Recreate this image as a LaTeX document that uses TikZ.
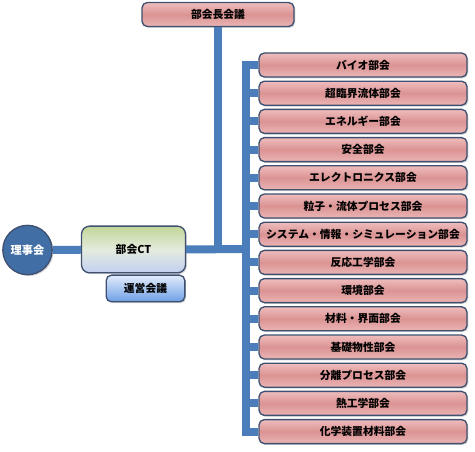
\documentclass[tikz,border=0pt]{standalone}
\usepackage{fontspec}
\newfontfamily\jp{Noto Sans CJK JP}
\usetikzlibrary{shadows}
\definecolor{linkblue}{HTML}{4A7DBA}
\definecolor{boxedge}{HTML}{3F5070}
\definecolor{pinktop}{HTML}{EFBDBD}
\definecolor{pinkmid}{HTML}{DB9393}
\definecolor{pinkbot}{HTML}{EBB5B5}
\definecolor{cttop}{HTML}{C2D699}
\definecolor{ctmid}{HTML}{E4EBDD}
\definecolor{ctbot}{HTML}{C3CFF2}
\definecolor{uneitop}{HTML}{E2ECFB}
\definecolor{uneibot}{HTML}{6E9FE6}
\tikzset{
  divbox/.style={draw=boxedge, line width=1pt, rounded corners=4pt,
    top color=pinktop, bottom color=pinkbot, middle color=pinkmid,
    minimum width=156pt, minimum height=18pt, inner sep=0pt,
    font=\jp\bfseries\fontsize{8.1}{9}\selectfont,
    drop shadow={shadow xshift=1pt, shadow yshift=-1pt, opacity=0.35}},
  link/.style={draw=linkblue, line width=6pt},
}
\begin{document}
\begin{tikzpicture}[x=0.75pt, y=-0.75pt]
  \useasboundingbox (0,0) rectangle (475,452);

  % Board and chair meeting
  \node[circle, draw=boxedge, line width=1pt, fill=linkblue!88!black,
    minimum size=37pt, inner sep=0pt, text=white,
    font=\jp\bfseries\fontsize{8.4}{9}\selectfont,
    drop shadow={shadow xshift=1pt, shadow yshift=-1pt, opacity=0.35}]
    (riji) at (27.5,250) {理事会};
  \node[divbox, minimum width=114pt, minimum height=18pt] (chair) at (218,14.5) {部会長会議};

  % Central team
  \node[draw=boxedge, line width=1pt, rounded corners=6pt,
    top color=cttop, bottom color=ctbot, middle color=ctmid,
    minimum width=78pt, minimum height=35pt, inner sep=0pt,
    font=\jp\bfseries\fontsize{8.1}{9}\selectfont,
    drop shadow={shadow xshift=1pt, shadow yshift=-1pt, opacity=0.35}]
    (ct) at (133.5,249.5) {部会CT};
  \node[draw=boxedge, line width=1pt, rounded corners=4pt,
    top color=uneitop, bottom color=uneibot,
    minimum width=59pt, minimum height=20pt, inner sep=0pt,
    font=\jp\bfseries\fontsize{8.1}{9}\selectfont,
    drop shadow={shadow xshift=1pt, shadow yshift=-1pt, opacity=0.35}]
    (unei) at (145.5,288.5) {運営会議};

  % Divisions
  \node[divbox] (bio) at (363,65) {バイオ部会};
  \node[divbox] (fluid) at (363,93.2) {超臨界流体部会};
  \node[divbox] (energy) at (363,121.4) {エネルギー部会};
  \node[divbox] (safety) at (363,149.6) {安全部会};
  \node[divbox] (elec) at (363,177.8) {エレクトロニクス部会};
  \node[divbox] (particle) at (363,206) {粒子・流体プロセス部会};
  \node[divbox] (system) at (363,234.2) {システム・情報・シミュレーション部会};
  \node[divbox] (reaction) at (363,262.4) {反応工学部会};
  \node[divbox] (environ) at (363,290.6) {環境部会};
  \node[divbox] (material) at (363,318.8) {材料・界面部会};
  \node[divbox] (property) at (363,347) {基礎物性部会};
  \node[divbox] (separate) at (363,375.2) {分離プロセス部会};
  \node[divbox] (thermal) at (363,403.4) {熱工学部会};
  \node[divbox] (equip) at (363,431.6) {化学装置材料部会};

  % Connectors
  \coordinate (bus) at (245.5,249);
  \begin{scope}[on background layer/.try]
  \draw[link] (riji) -- (ct);
  \draw[link] (ct.east) -- (bus);
  \draw[link] (chair.south) -- (chair.south |- bus);
  \draw[link] (bio.west) -| (bus) |- (equip.west);
  \draw[link] (bus |- fluid.west) -- (fluid.west);
  \draw[link] (bus |- energy.west) -- (energy.west);
  \draw[link] (bus |- safety.west) -- (safety.west);
  \draw[link] (bus |- elec.west) -- (elec.west);
  \draw[link] (bus |- particle.west) -- (particle.west);
  \draw[link] (bus |- system.west) -- (system.west);
  \draw[link] (bus |- reaction.west) -- (reaction.west);
  \draw[link] (bus |- environ.west) -- (environ.west);
  \draw[link] (bus |- material.west) -- (material.west);
  \draw[link] (bus |- property.west) -- (property.west);
  \draw[link] (bus |- separate.west) -- (separate.west);
  \draw[link] (bus |- thermal.west) -- (thermal.west);
  \end{scope}
\end{tikzpicture}
\end{document}
